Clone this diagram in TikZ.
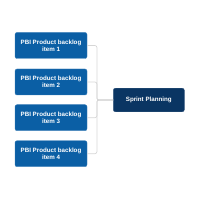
\documentclass[tikz,border=0pt]{standalone}
\usepackage{fontspec}
\setmainfont{Liberation Sans}
\begin{document}
\begin{tikzpicture}[x=1pt,y=-1pt,
  item/.style={draw=pbiblue!80!white, line width=0.4pt, fill=pbiblue, rounded corners=2pt, minimum width=72pt, minimum height=26pt, inner sep=1pt, text=white, font=\fontsize{6.2}{7}\selectfont\bfseries, align=center},
  sprint/.style={draw=spnavy!80!white, line width=0.4pt, fill=spnavy, rounded corners=2pt, minimum width=71pt, minimum height=23.5pt, inner sep=1pt, text=white, font=\fontsize{6.2}{7}\selectfont\bfseries, align=center},
  link/.style={draw=linkgray, line width=0.7pt, rounded corners=2pt}]
\definecolor{pbiblue}{HTML}{0B5FA5}
\definecolor{spnavy}{HTML}{0A3563}
\definecolor{linkgray}{HTML}{D6D6D6}
\useasboundingbox (0,0) rectangle (200,200);
\node[item] (b1) at (51,45.5) {PBI Product backlog\\item 1};
\node[item] (b2) at (51,82) {PBI Product backlog\\item 2};
\node[item] (b3) at (51,117.7) {PBI Product backlog\\item 3};
\node[item] (b4) at (51,153.7) {PBI Product backlog\\item 4};
\node[sprint] (sp) at (148.8,100) {Sprint Planning};
\foreach \b in {b1,b2,b3,b4}
  \draw[link] (\b.east) -- ++(9.7,0) |- (sp.west);
\end{tikzpicture}
\end{document}
